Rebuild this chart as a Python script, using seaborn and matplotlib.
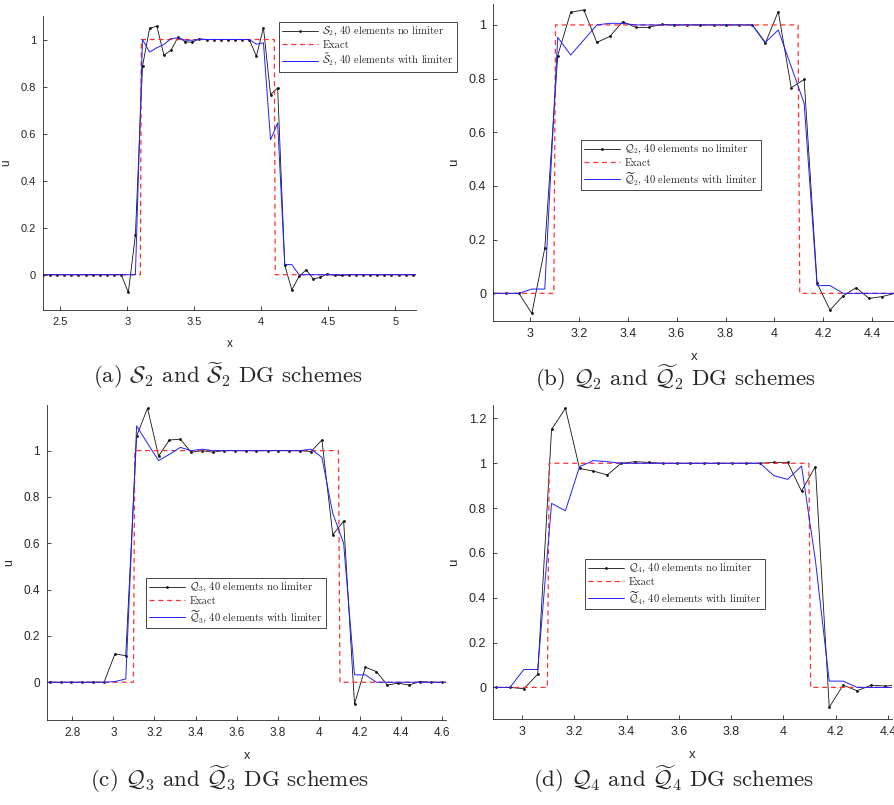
import numpy as np
import pandas as pd
import seaborn as sns
import matplotlib
matplotlib.use("Agg")
import matplotlib.pyplot as plt

sns.set_style("ticks")
plt.rcParams["mathtext.fontset"] = "cm"
plt.rcParams["font.family"] = ["Liberation Sans", "DejaVu Sans"]

# ---- data ----
# (a) S2
xa = [2.370, 2.423, 2.476, 2.529, 2.582, 2.635, 2.689, 2.742, 2.795, 2.848, 2.901, 2.954,
      3.007, 3.060, 3.113, 3.166, 3.220, 3.273, 3.326, 3.379, 3.432, 3.485, 3.538, 3.591,
      3.644, 3.697, 3.751, 3.804, 3.857, 3.910, 3.963, 4.016, 4.069, 4.122, 4.175, 4.228,
      4.282, 4.335, 4.388, 4.441, 4.494, 4.547, 4.600, 4.653, 4.706, 4.759, 4.813, 4.866,
      4.919, 4.972, 5.025, 5.078, 5.131, 5.184]
ua_nolim = [0, 0, 0, 0, 0, 0, 0, 0, 0, 0, 0, 0,
            -0.075, 0.169, 0.887, 1.047, 1.057, 0.933, 0.955, 1.011, 0.990, 0.989, 1.003,
            1, 1, 1, 1, 1, 1, 1,
            0.929, 1.050, 0.766, 0.794, 0.040, -0.064, -0.007, 0.021, -0.018, -0.011, 0.004,
            -0.003, -0.003,
            0, 0, 0, 0, 0, 0, 0, 0, 0, 0, 0]
ua_lim = [0, 0, 0, 0, 0, 0, 0, 0, 0, 0, 0, 0, 0, 0,
          1.0, 0.947, 0.965, 0.979, 1.004, 1.007, 0.997, 0.997,
          1, 1, 1, 1, 1, 1, 1, 1,
          0.980, 0.986, 0.574, 0.645, 0.043, 0.043,
          0, 0, 0, 0, 0, 0, 0, 0, 0, 0, 0, 0, 0, 0, 0, 0, 0, 0]

# (b) Q2
xb = [2.848, 2.901, 2.954, 3.007, 3.060, 3.113, 3.166, 3.220, 3.273, 3.326, 3.379, 3.432,
      3.485, 3.538, 3.591, 3.644, 3.697, 3.751, 3.804, 3.857, 3.910, 3.963, 4.016, 4.069,
      4.122, 4.175, 4.228, 4.282, 4.335, 4.388, 4.441, 4.494]
ub_nolim = [0, 0, 0, -0.075, 0.168, 0.886, 1.047, 1.056, 0.935, 0.957, 1.012, 0.991, 0.991,
            1.002, 1, 1, 1, 1, 1, 1, 1,
            0.932, 1.050, 0.766, 0.797, 0.037, -0.062, -0.009, 0.021, -0.019, -0.012, 0.0]
ub_lim = [0, 0, 0, 0.016, 0.016, 0.954, 0.888, 0.944, 1.0, 1.006, 1.006,
          1, 1, 1, 1, 1, 1, 1, 1, 1, 1,
          0.935, 0.981, 0.845, 0.708, 0.029, 0.029, 0, 0, 0, 0, 0]

# (c) Q3
xc = [2.635, 2.689, 2.742, 2.795, 2.848, 2.901, 2.954, 3.007, 3.060, 3.113, 3.166, 3.220,
      3.273, 3.326, 3.379, 3.432, 3.485, 3.538, 3.591, 3.644, 3.697, 3.751, 3.804, 3.857,
      3.910, 3.963, 4.016, 4.069, 4.122, 4.175, 4.228, 4.282, 4.335, 4.388, 4.441, 4.494,
      4.547, 4.600, 4.653]
uc_nolim = [0, 0, 0, 0, 0, 0, 0,
            0.122, 0.115, 1.063, 1.183, 0.977, 1.046, 1.049, 0.993, 1.0, 0.993,
            1, 1, 1, 1, 1, 1, 1, 1,
            0.996, 1.046, 0.637, 0.696, -0.094, 0.065, 0.046, -0.012, -0.004, -0.012, 0.003,
            0, 0, 0]
uc_lim = [0, 0, 0, 0, 0, 0, 0,
          0.003, 0.014, 1.107, 1.031, 0.957, 0.984, 1.014, 1.0, 1.006, 1.0,
          1, 1, 1, 1, 1, 1, 1, 1,
          1.006, 0.971, 0.729, 0.600, 0.032, 0.032,
          0, 0, 0, 0, 0, 0, 0, 0]

# (d) Q4
xd = [2.848, 2.901, 2.954, 3.007, 3.060, 3.113, 3.166, 3.220, 3.273, 3.326, 3.379, 3.432,
      3.485, 3.538, 3.591, 3.644, 3.697, 3.751, 3.804, 3.857, 3.910, 3.963, 4.016, 4.069,
      4.122, 4.175, 4.228, 4.282, 4.335, 4.388, 4.441]
ud_nolim = [0, 0, 0, -0.006, 0.059, 1.151, 1.245, 0.977, 0.965, 0.948, 1.0, 1.007, 1.004,
            1, 1, 1, 1, 1, 1, 1, 1,
            1.004, 1.004, 0.876, 0.985, -0.089, 0.010, -0.015, 0.010, 0.006, 0.010]
ud_lim = [0, 0, 0, 0.080, 0.080, 0.821, 0.788, 0.985, 1.012, 1.007, 1.0, 1.0, 1.0,
          1, 1, 1, 1, 1, 1, 1, 1,
          0.945, 0.928, 0.988, 0.568, 0.028, 0.028, 0, 0, 0, 0]

# exact solution: box between 3.1 and 4.1
exact_x = [2.0, 3.097, 3.104, 4.097, 4.104, 5.5]
exact_u = [0, 0, 1, 1, 0, 0]

panels = [
    dict(x=xa, nolim=ua_nolim, lim=ua_lim, sym=r"\mathcal{S}_2", lsym=r"\tilde{\mathcal{S}}_2",
         csym=r"\widetilde{\mathcal{S}}_2", tag="(a)",
         xlim=(2.37, 5.155), ylim=(-0.15, 1.10), xt=[2.5, 3, 3.5, 4, 4.5, 5],
         yt=[0, 0.2, 0.4, 0.6, 0.8, 1], fs=8,
         rect=[43, 16, 416, 310], leg=(279, 22), cap=(228, 376)),
    dict(x=xb, nolim=ub_nolim, lim=ub_lim, sym=r"\mathcal{Q}_2", lsym=r"\widetilde{\mathcal{Q}}_2",
         csym=r"\widetilde{\mathcal{Q}}_2", tag="(b)",
         xlim=(2.848, 4.494), ylim=(-0.103, 1.078), xt=[3, 3.2, 3.4, 3.6, 3.8, 4, 4.2, 4.4],
         yt=[0, 0.2, 0.4, 0.6, 0.8, 1], fs=9,
         rect=[493, 4, 895, 321], leg=(581, 140), cap=(676, 378)),
    dict(x=xc, nolim=uc_nolim, lim=uc_lim, sym=r"\mathcal{Q}_3", lsym=r"\widetilde{\mathcal{Q}}_3",
         csym=r"\widetilde{\mathcal{Q}}_3", tag="(c)",
         xlim=(2.676, 4.621), ylim=(-0.163, 1.197),
         xt=[2.8, 3, 3.2, 3.4, 3.6, 3.8, 4, 4.2, 4.4, 4.6],
         yt=[0, 0.2, 0.4, 0.6, 0.8, 1], fs=8.5,
         rect=[47, 405, 446, 720], leg=(146, 578), cap=(229, 779)),
    dict(x=xd, nolim=ud_nolim, lim=ud_lim, sym=r"\mathcal{Q}_4", lsym=r"\widetilde{\mathcal{Q}}_4",
         csym=r"\widetilde{\mathcal{Q}}_4", tag="(d)",
         xlim=(2.889, 4.415), ylim=(-0.141, 1.26), xt=[3, 3.2, 3.4, 3.6, 3.8, 4, 4.2, 4.4],
         yt=[0, 0.2, 0.4, 0.6, 0.8, 1, 1.2], fs=9,
         rect=[493, 405, 892, 719], leg=(585, 559), cap=(674, 779)),
]

W, H = 895, 805
fig = plt.figure(figsize=(W / 100, H / 100), dpi=100)
serif = ["cmr10", "DejaVu Serif"]
axcol = "#262626"

for p in panels:
    l, t, r, b = p["rect"]
    ax = fig.add_axes([l / W, 1 - b / H, (r - l) / W, (b - t) / H])
    df_n = pd.DataFrame({"x": p["x"], "u": p["nolim"]})
    df_l = pd.DataFrame({"x": p["x"], "u": p["lim"]})
    df_e = pd.DataFrame({"x": exact_x, "u": exact_u})

    sns.lineplot(data=df_n, x="x", y="u", ax=ax, color="#111111", lw=0.6, marker=".",
                 markersize=4, markeredgewidth=0, estimator=None, sort=False,
                 label="$" + p["sym"] + "$, 40 elements no limiter")
    sns.lineplot(data=df_e, x="x", y="u", ax=ax, color="#ff3030", lw=0.9,
                 linestyle=(0, (4, 3)), estimator=None, sort=False, label="Exact")
    sns.lineplot(data=df_l, x="x", y="u", ax=ax, color="#2020ff", lw=0.7,
                 estimator=None, sort=False,
                 label="$" + p["lsym"] + "$, 40 elements with limiter")

    ax.set_xlim(*p["xlim"])
    ax.set_ylim(*p["ylim"])
    ax.set_xticks(p["xt"])
    ax.set_yticks(p["yt"])
    ax.set_xticklabels(["%g" % v for v in p["xt"]])
    ax.set_yticklabels(["%g" % v for v in p["yt"]])
    ax.tick_params(direction="in", length=3, width=0.6, colors=axcol,
                   labelsize=p["fs"], pad=5)
    ax.set_xlabel("x", fontsize=p["fs"] + 0.5, color=axcol, labelpad=8)
    ax.set_ylabel("u", fontsize=p["fs"] + 0.5, color=axcol, labelpad=6)
    for s in ["top", "right"]:
        ax.spines[s].set_visible(False)
    for s in ["left", "bottom"]:
        ax.spines[s].set_color(axcol)
        ax.spines[s].set_linewidth(0.6)

    lx, ly = p["leg"]
    leg = ax.legend(loc="upper left", bbox_to_anchor=(lx / W, 1 - ly / H),
                    bbox_transform=fig.transFigure, borderaxespad=0,
                    prop={"family": serif, "size": 7.6}, fancybox=False,
                    framealpha=1, edgecolor=axcol, handlelength=3.4,
                    handletextpad=0.4, labelspacing=0.2, borderpad=0.3)
    leg.get_frame().set_linewidth(0.6)

    cx, cy = p["cap"]
    fig.text(cx / W, 1 - cy / H,
             p["tag"] + " $" + p["sym"] + "$ and $" + p["csym"] + "$ DG schemes",
             ha="center", va="center", family=serif, fontsize=16.5)

fig.savefig("out.png", dpi=100)
